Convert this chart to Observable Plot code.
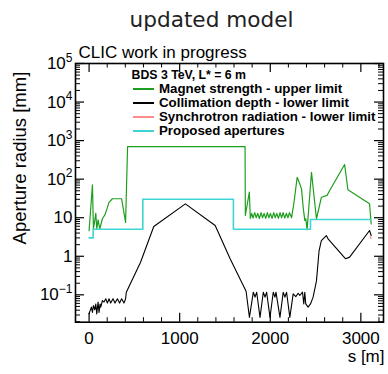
<!DOCTYPE html>
<html><head><meta charset="utf-8">
<script src="https://cdn.jsdelivr.net/npm/d3@7"></script>
<script src="https://cdn.jsdelivr.net/npm/@observablehq/plot@0.6"></script>
<style>
body{margin:0;background:#fff;}
#wrap{position:relative;width:388px;height:374px;overflow:hidden;background:#fff;}
#wrap svg{position:absolute;left:0;top:0;}
.lg{position:absolute;font:bold 13.3px "Liberation Sans",Arial,sans-serif;color:#000;line-height:14px;height:14px;white-space:nowrap;}
.hd{font-size:12.3px;}
.sw{position:absolute;height:2px;width:21px;}
</style></head><body><div id="wrap"></div>
<script>
// ---- data (s [m], aperture radius [mm]) ----
const magnet = [[0,4.6],[37,71],[48,5.1],[74,13],[85,5.1],[99,8.8],[118,5.1],[147,9.4],[176,12],[220,25],[257,31],[359,31],[403,7.6],[425,700],[1722,700],[1725,11.4],[1769,46],[1780,9.6],[1795,13],[1810,9.8],[1828,13.5],[1845,10],[1862,13],[1880,9.5],[1898,13.5],[1915,10],[1932,13],[1950,9.6],[1968,13.5],[1985,10],[2002,13],[2020,9.6],[2038,13.5],[2055,10],[2072,13],[2090,9.6],[2108,13.5],[2125,10],[2142,13.5],[2160,9.8],[2178,13],[2195,10],[2212,13.5],[2235,10],[2260,23],[2297,112],[2319,83],[2345,56],[2363,19],[2381,8.5],[2392,9.4],[2407,4.9],[2455,151],[2510,9.4],[2565,34],[2627,38],[2656,51],[2821,240],[2857,53],[3096,23],[3114,6.9]];
const collimation = [[0,0.032],[11,0.039],[26,0.048],[37,0.035],[48,0.053],[63,0.041],[74,0.058],[85,0.032],[99,0.065],[110,0.035],[121,0.058],[129,0.048],[147,0.071],[165,0.065],[184,0.079],[202,0.061],[220,0.079],[238,0.061],[264,0.079],[286,0.061],[312,0.079],[337,0.061],[359,0.079],[385,0.061],[403,0.079],[411,0.117],[568,0.70],[714,5.9],[1063,22.9],[1392,6.3],[1557,0.86],[1733,0.124],[1770,0.026],[1813,0.117],[1832,0.087],[1850,0.117],[1887,0.026],[1923,0.117],[1942,0.087],[1960,0.117],[1997,0.026],[2033,0.117],[2052,0.087],[2063,0.117],[2107,0.026],[2143,0.117],[2162,0.087],[2180,0.117],[2216,0.026],[2253,0.106],[2282,0.090],[2308,0.110],[2326,0.096],[2356,0.117],[2370,0.058],[2381,0.117],[2392,0.058],[2418,0.048],[2444,0.058],[2473,0.087],[2510,0.23],[2539,1.41],[2564,2.56],[2619,3.45],[2638,2.83],[2832,0.86],[2876,0.95],[3096,4.66],[3114,3.45]];
const synchrotron = [[3105,3.3],[3112,2.9]];
const proposed = [[0,3.0],[45,3.0],[45,5],[593,5],[593,30],[1593,30],[1593,5],[2444,5],[2444,9],[3110,9]];

const xMajor = [0,1000,2000,3000];
const xTickLabels = ["0","1000","2000","3000"];
const yMajor = [0.1,1,10,100,1000,10000,100000];
const yTickLabels = ["10^\u22121","1","10","10^2","10^3","10^4","10^5"];

const titleText = "updated model";
const noteText = "CLIC work in progress";
const xLabel = "s [m]";
const yLabel = "Aperture radius [mm]";
const legendHeader = "BDS 3 TeV, L* = 6 m";
const legendNames = ["Magnet strength - upper limit","Collimation depth - lower limit","Synchrotron radiation - lower limit","Proposed apertures"];
const colors = ["#1e9e1e","#000000","#ff8c8c","#3fd4d4"];

// ---- layout ----
const W=388, H=374, mL=75, mR=5, mT=63, mB=52.3;
const frameW = W-mL-mR, frameH = H-mT-mB;
const xDomain = [-150,3250];
const yDomain = [0.0195,1e5];
const xMinor = d3.range(0,3201,200).filter(d => d % 1000 !== 0);
const yMinor = [];
for (let k=-2;k<=4;k++) for (let m=2;m<=9;m++){const v=m*Math.pow(10,k); if(v>=yDomain[0]&&v<=yDomain[1]) yMinor.push(v);}

const xFmt = new Map(xMajor.map((d,i)=>[d,xTickLabels[i]]));
const yFmt = new Map(yMajor.map((d,i)=>[d,yTickLabels[i]]));
const P = d=>d[0], V = d=>d[1];
const sansFont = '"Liberation Sans", Arial, Helvetica, sans-serif';

const chart = Plot.plot({
  width:W, height:H, marginLeft:mL, marginRight:mR, marginTop:mT, marginBottom:mB,
  style:{fontFamily:sansFont, fontSize:"17px", background:"white", color:"black", overflow:"visible"},
  x:{domain:xDomain},
  y:{type:"log", domain:yDomain},
  marks:[
    Plot.line(magnet,{x:P,y:V,stroke:colors[0],strokeWidth:1.2,clip:true}),
    Plot.line(collimation,{x:P,y:V,stroke:colors[1],strokeWidth:1.1,clip:true}),
    Plot.line(synchrotron,{x:P,y:V,stroke:colors[2],strokeWidth:1.3,clip:true}),
    Plot.line(proposed,{x:P,y:V,stroke:colors[3],strokeWidth:1.6,clip:true}),
    // inward ticks on four sides
    Plot.tickY(yMajor,{y:d=>d,insetRight:frameW-9,stroke:"black",strokeWidth:1.2}),
    Plot.tickY(yMinor,{y:d=>d,insetRight:frameW-5,stroke:"black",strokeWidth:1}),
    Plot.tickY(yMajor,{y:d=>d,insetLeft:frameW-9,stroke:"black",strokeWidth:1.2}),
    Plot.tickY(yMinor,{y:d=>d,insetLeft:frameW-5,stroke:"black",strokeWidth:1}),
    Plot.tickX(xMajor,{x:d=>d,insetTop:frameH-9,stroke:"black",strokeWidth:1.2}),
    Plot.tickX(xMinor,{x:d=>d,insetTop:frameH-4.5,stroke:"black",strokeWidth:1}),
    Plot.tickX(xMajor,{x:d=>d,insetBottom:frameH-9,stroke:"black",strokeWidth:1.2}),
    Plot.tickX(xMinor,{x:d=>d,insetBottom:frameH-4.5,stroke:"black",strokeWidth:1}),
    Plot.axisX(xMajor,{tickSize:0,tickPadding:10,label:null,tickFormat:d=>xFmt.get(d),fontSize:17}),
    Plot.axisY(yMajor,{tickSize:0,tickPadding:3,label:null,tickFormat:d=>yFmt.get(d),fontSize:17}),
    Plot.frame({stroke:"black",strokeWidth:1.6}),
    Plot.text([titleText],{text:d=>d,frameAnchor:"top",textAnchor:"middle",lineAnchor:"middle",dx:-18,dy:-43.9,fontFamily:"DejaVu Sans",fontSize:21.6,fill:"#222"}),
    Plot.text([noteText],{text:d=>d,frameAnchor:"top-left",textAnchor:"start",lineAnchor:"middle",dx:3,dy:-11.4,fontSize:17}),
    Plot.text([xLabel],{text:d=>d,frameAnchor:"bottom-right",textAnchor:"end",lineAnchor:"middle",dx:1,dy:33.9,fontSize:17}),
    Plot.text([yLabel],{text:d=>d,frameAnchor:"left",textAnchor:"middle",lineAnchor:"middle",rotate:-90,dx:-55.4,dy:-34.8,fontSize:18.5})
  ]
});

// superscript exponents on y tick labels
const NS="http://www.w3.org/2000/svg";
chart.querySelectorAll('g[aria-label="y-axis tick label"] text').forEach(t=>{
  const parts=t.textContent.split("^");
  if(parts.length<2) return;
  t.textContent="";
  const a=document.createElementNS(NS,"tspan"); a.textContent=parts[0]; t.appendChild(a);
  const b=document.createElementNS(NS,"tspan"); b.textContent=parts[1]; b.setAttribute("font-size","12px"); b.setAttribute("dy","-0.62em"); t.appendChild(b);
});

const wrap=document.getElementById("wrap");
wrap.appendChild(chart);

// legend (HTML overlay inside the frame)
const hdr=document.createElement("div"); hdr.className="lg hd"; hdr.textContent=legendHeader;
hdr.style.left="131.5px"; hdr.style.top=(74.5-7)+"px"; wrap.appendChild(hdr);
const rowY=[89.3,102.9,116.7,130.7];
legendNames.forEach((n,i)=>{
  const sw=document.createElement("div"); sw.className="sw"; sw.style.background=colors[i];
  sw.style.left="133px"; sw.style.top=(rowY[i]-1)+"px"; wrap.appendChild(sw);
  const t=document.createElement("div"); t.className="lg"; t.textContent=n;
  t.style.left="159px"; t.style.top=(rowY[i]-7)+"px"; wrap.appendChild(t);
});
</script></body></html>
